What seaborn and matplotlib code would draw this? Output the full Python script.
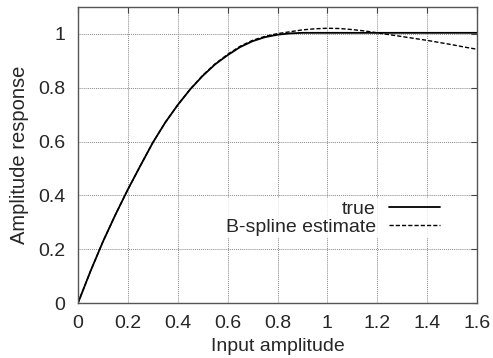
import numpy as np
import pandas as pd
import matplotlib
matplotlib.use("Agg")
import matplotlib.pyplot as plt
import seaborn as sns

x_vals = [0.0, 0.05, 0.1, 0.15, 0.2, 0.25, 0.3, 0.35, 0.4, 0.45, 0.5, 0.55, 0.6, 0.65, 0.7, 0.75, 0.8,
          0.85, 0.9, 0.95, 1.0, 1.05, 1.1, 1.15, 1.2, 1.25, 1.3, 1.35, 1.4, 1.45, 1.5, 1.55, 1.6]
true_vals = [0.0, 0.118, 0.228, 0.328, 0.422, 0.51, 0.596, 0.671, 0.736, 0.794, 0.844, 0.887, 0.921,
             0.951, 0.973, 0.988, 0.997, 1.002, 1.004, 1.004, 1.004, 1.004, 1.004, 1.004, 1.004, 1.004,
             1.004, 1.004, 1.004, 1.004, 1.004, 1.004, 1.004]
spline_vals = [0.0, 0.118, 0.228, 0.328, 0.422, 0.51, 0.596, 0.671, 0.736, 0.795, 0.846, 0.889, 0.924,
               0.954, 0.976, 0.991, 1.001, 1.008, 1.015, 1.019, 1.021, 1.02, 1.016, 1.011, 1.004, 0.997,
               0.99, 0.983, 0.976, 0.968, 0.96, 0.951, 0.943]
x_ticks = [0, 0.2, 0.4, 0.6, 0.8, 1, 1.2, 1.4, 1.6]
x_ticklabels = ["0", "0.2", "0.4", "0.6", "0.8", "1", "1.2", "1.4", "1.6"]
y_ticks = [0, 0.2, 0.4, 0.6, 0.8, 1]
y_ticklabels = ["0", "0.2", "0.4", "0.6", "0.8", "1"]

sns.set_style("white")
plt.rcParams["font.family"] = ["Liberation Sans", "DejaVu Sans"]

fig = plt.figure(figsize=(4.93, 3.58), dpi=100)
ax = fig.add_axes([78/493, 1 - 303/358, (477-78)/493, (303-7)/358])

df = pd.DataFrame({"x": x_vals, "true": true_vals, "spline": spline_vals})
sns.lineplot(data=df, x="x", y="true", ax=ax, color="black", lw=1.3, label="true")
sns.lineplot(data=df, x="x", y="spline", ax=ax, color="black", lw=1.0, linestyle=(0, (3, 1.5)), label="B-spline estimate")

ax.set_xlim(0, 1.6)
ax.set_ylim(0, 1.1)
ax.set_xticks(x_ticks)
ax.set_xticklabels(x_ticklabels)
ax.set_yticks(y_ticks)
ax.set_yticklabels(y_ticklabels)
ax.grid(True, color="#888888", linestyle=(0, (1, 1)), linewidth=0.7)
ax.tick_params(direction="in", length=4, labelsize=14, top=True, right=True, color="#444444", pad=9)
for s in ax.spines.values():
    s.set_color("#555555")
    s.set_linewidth(1.0)
ax.set_xlabel("Input amplitude", fontsize=14, labelpad=4)
ax.set_ylabel("Amplitude response", fontsize=14.5, labelpad=7)

leg = ax.legend(loc="upper right", bbox_to_anchor=(0.922, 0.368), markerfirst=False, frameon=True,
                fontsize=14, handlelength=2.6, handletextpad=0.7, borderpad=0.1, borderaxespad=0.2,
                labelspacing=0.05, fancybox=False)
leg.get_frame().set_facecolor("white")
leg.get_frame().set_edgecolor("none")
for t in leg.get_texts():
    t.set_ha("right")

fig.savefig("out.png", dpi=100)
